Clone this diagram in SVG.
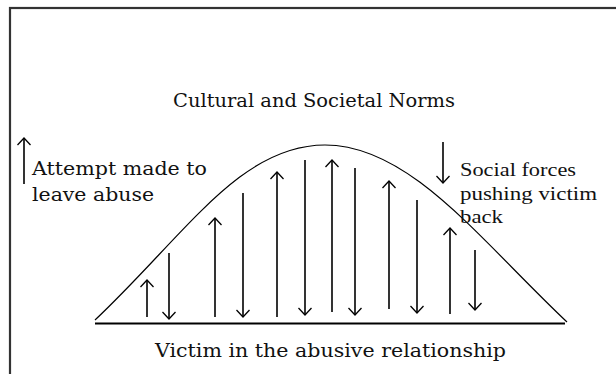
<svg xmlns="http://www.w3.org/2000/svg" width="616" height="374" viewBox="0 0 616 374">
<style>
.lbl{font-family:"DejaVu Serif","Liberation Serif",serif;font-size:18px;fill:#111}
.lbl2{font-family:"Liberation Serif","DejaVu Serif",serif;font-size:19px;fill:#111}
.arr{stroke:#000;stroke-width:1.6;fill:none}
</style>
<defs>
<marker id="hu" markerUnits="userSpaceOnUse" markerWidth="16" markerHeight="16" refX="8" refY="8" orient="auto" overflow="visible">
<path d="M1,1.5 L8,8 L1,14.5" fill="none" stroke="#000" stroke-width="1.3"/>
</marker>
</defs>
<rect x="10" y="8" width="640" height="400" fill="#fff" stroke="#333" stroke-width="2.2"/>
<g id="title"><text class="lbl" x="173" y="107" textLength="282" lengthAdjust="spacingAndGlyphs">Cultural and Societal Norms</text></g>
<g id="curve"><path d="M95,320 C185,235 240,145 325,145 C410,145 480,240 567,322" fill="none" stroke="#000" stroke-width="1.2"/>
<line x1="95" y1="323.5" x2="565" y2="323.5" stroke="#000" stroke-width="2"/></g>
<g id="bottom-label"><text class="lbl" x="155" y="357" textLength="351" lengthAdjust="spacingAndGlyphs">Victim in the abusive relationship</text></g>
<g id="legend-left">
<line class="arr" x1="24" y1="184" x2="24" y2="138" marker-end="url(#hu)"/>
<text class="lbl" x="32" y="175" textLength="175" lengthAdjust="spacingAndGlyphs">Attempt made to</text>
<text class="lbl" x="32" y="201" textLength="122" lengthAdjust="spacingAndGlyphs">leave abuse</text>
</g>
<g id="legend-right">
<line class="arr" x1="443" y1="142" x2="443" y2="183" marker-end="url(#hu)"/>
<text class="lbl2" x="460" y="176" textLength="116" lengthAdjust="spacingAndGlyphs">Social forces</text>
<text class="lbl2" x="460" y="200" textLength="137" lengthAdjust="spacingAndGlyphs">pushing victim</text>
<text class="lbl2" x="460" y="223" textLength="43" lengthAdjust="spacingAndGlyphs">back</text>
</g>
<g id="connectors">
<line class="arr" x1="147" y1="317" x2="147" y2="280" marker-end="url(#hu)"/>
<line class="arr" x1="169" y1="253" x2="169" y2="319" marker-end="url(#hu)"/>
<line class="arr" x1="215" y1="317" x2="215" y2="218" marker-end="url(#hu)"/>
<line class="arr" x1="243" y1="193" x2="243" y2="317" marker-end="url(#hu)"/>
<line class="arr" x1="277" y1="317" x2="277" y2="172" marker-end="url(#hu)"/>
<line class="arr" x1="305" y1="160" x2="305" y2="315" marker-end="url(#hu)"/>
<line class="arr" x1="332" y1="312" x2="332" y2="160" marker-end="url(#hu)"/>
<line class="arr" x1="355" y1="168" x2="355" y2="315" marker-end="url(#hu)"/>
<line class="arr" x1="389" y1="309" x2="389" y2="181" marker-end="url(#hu)"/>
<line class="arr" x1="417" y1="200" x2="417" y2="313" marker-end="url(#hu)"/>
<line class="arr" x1="450" y1="314" x2="450" y2="228" marker-end="url(#hu)"/>
<line class="arr" x1="475" y1="250" x2="475" y2="310" marker-end="url(#hu)"/>
</g>
</svg>
